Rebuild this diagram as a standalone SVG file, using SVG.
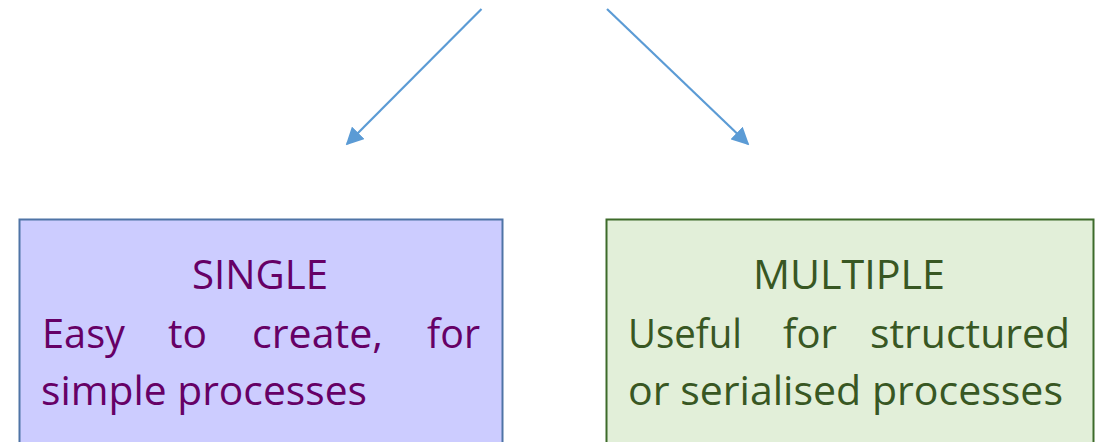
<svg xmlns="http://www.w3.org/2000/svg" width="1101" height="442" viewBox="0 0 1101 442">
<style>
.t{font-family:"Open Sans","Noto Sans","Liberation Sans",sans-serif;font-size:41px}
.s{fill:#660066}
.m{fill:#385723}
.c{stroke:#5b9bd5;stroke-width:2.2;fill:none}
</style>
<defs>
<marker id="ah" viewBox="0 0 10 10" refX="9" refY="5" markerWidth="8" markerHeight="8" orient="auto"><path d="M0,0 L10,5 L0,10 z" fill="#5b9bd5"/></marker>
</defs>
<g id="connectors">
<line class="c" x1="481.5" y1="9" x2="347" y2="144" marker-end="url(#ah)"/>
<line class="c" x1="607" y1="9" x2="748" y2="144" marker-end="url(#ah)"/>
</g>
<g id="single">
<rect x="19.5" y="219.5" width="483" height="240" fill="#ccccff" stroke="#4f74a6" stroke-width="2"/>
<text class="t s" x="192" y="289" textLength="136" lengthAdjust="spacingAndGlyphs">SINGLE</text>
<text class="t s" x="42" y="348" textLength="83" lengthAdjust="spacingAndGlyphs">Easy</text>
<text class="t s" x="168" y="348" textLength="39" lengthAdjust="spacingAndGlyphs">to</text>
<text class="t s" x="252" y="348" textLength="131" lengthAdjust="spacingAndGlyphs">create,</text>
<text class="t s" x="427" y="348" textLength="53" lengthAdjust="spacingAndGlyphs">for</text>
<text class="t s" x="41" y="405" textLength="326" lengthAdjust="spacingAndGlyphs">simple processes</text>
</g>
<g id="multiple">
<rect x="606.5" y="219.5" width="487" height="240" fill="#e2efd9" stroke="#3d6b2a" stroke-width="2"/>
<text class="t m" x="753" y="289" textLength="192" lengthAdjust="spacingAndGlyphs">MULTIPLE</text>
<text class="t m" x="628" y="348" textLength="114" lengthAdjust="spacingAndGlyphs">Useful</text>
<text class="t m" x="783" y="348" textLength="54" lengthAdjust="spacingAndGlyphs">for</text>
<text class="t m" x="870" y="348" textLength="200" lengthAdjust="spacingAndGlyphs">structured</text>
<text class="t m" x="628" y="405" textLength="435" lengthAdjust="spacingAndGlyphs">or serialised processes</text>
</g>
</svg>
